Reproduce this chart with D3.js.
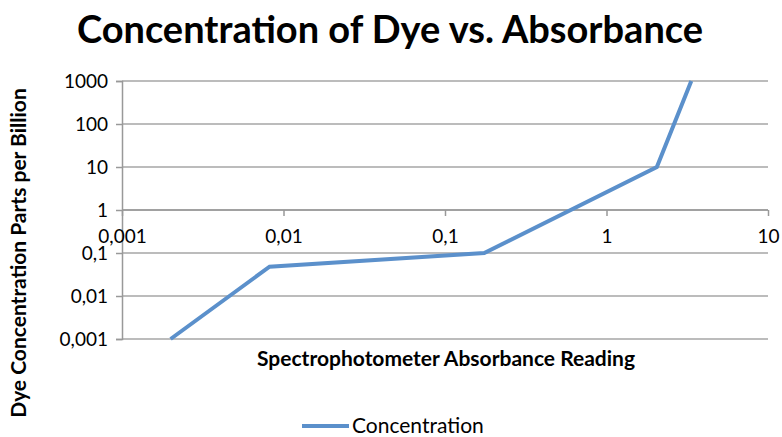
<!DOCTYPE html>
<html>
<head>
<meta charset="utf-8">
<script src="https://cdn.jsdelivr.net/npm/d3@7"></script>
<style>
  body { margin: 0; background: #fff; }
  text { font-family: Lato, "Open Sans", sans-serif; fill: #000; }
</style>
</head>
<body>
<div id="chart"></div>
<script>
// data
var absorbance = [0.002, 0.0082, 0.175, 2.05, 3.35];
var concentration = [0.001, 0.048, 0.1, 10, 1000];
var xTicks = [0.001, 0.01, 0.1, 1, 10];
var yTicks = [0.001, 0.01, 0.1, 1, 10, 100, 1000];
var seriesName = 'Concentration';

var width = 782, height = 437;
var plotLeft = 122, plotRight = 768, plotTop = 81, plotBottom = 339;

var x = d3.scaleLog().domain([0.001, 10]).range([plotLeft, plotRight]);
var y = d3.scaleLog().domain([0.001, 1000]).range([plotBottom, plotTop]);

function fmt(v) { return String(v).replace('.', ','); }

var svg = d3.select('#chart').append('svg')
    .attr('width', width)
    .attr('height', height);

// title
svg.append('text')
    .attr('x', 390).attr('y', 43)
    .attr('text-anchor', 'middle')
    .style('font-size', '38px').style('font-weight', 'bold')
    .text('Concentration of Dye vs. Absorbance');

// horizontal gridlines
svg.append('g').selectAll('line')
    .data(yTicks)
    .enter().append('line')
    .attr('x1', plotLeft).attr('x2', plotRight)
    .attr('y1', function(d) { return y(d); })
    .attr('y2', function(d) { return y(d); })
    .attr('stroke', '#a6a6a6').attr('stroke-width', 1.5);

// y axis
var yAxis = svg.append('g')
    .attr('transform', 'translate(' + plotLeft + ',0)')
    .call(d3.axisLeft(y).tickValues(yTicks).tickFormat(fmt).tickSize(6).tickPadding(8));
yAxis.selectAll('path, line').attr('stroke', '#999').attr('stroke-width', 1.5);
yAxis.selectAll('text').style('font-size', '19px').style('font-family', 'Lato, sans-serif');

// x axis crossing at y = 1
var xAxis = svg.append('g')
    .attr('transform', 'translate(0,' + y(1) + ')')
    .call(d3.axisBottom(x).tickValues(xTicks).tickFormat(fmt).tickSize(6).tickPadding(14));
xAxis.select('.domain').remove();
xAxis.append('line').attr('x1', plotLeft).attr('x2', plotRight).attr('y1', 0).attr('y2', 0);
xAxis.selectAll('line').attr('stroke', '#999').attr('stroke-width', 1.5);
xAxis.selectAll('text').style('font-size', '19px').style('font-family', 'Lato, sans-serif');

// series line
var data = absorbance.map(function(v, i) { return {x: v, y: concentration[i]}; });
svg.append('path')
    .datum(data)
    .attr('fill', 'none')
    .attr('stroke', '#5b90cb')
    .attr('stroke-width', 4)
    .attr('d', d3.line()
      .x(function(d) { return x(d.x); })
      .y(function(d) { return y(d.y); }));

// axis titles
svg.append('text')
    .attr('x', 446).attr('y', 366)
    .attr('text-anchor', 'middle')
    .style('font-size', '21px').style('font-weight', 'bold')
    .text('Spectrophotometer Absorbance Reading');

svg.append('text')
    .attr('transform', 'translate(26,253) rotate(-90)')
    .attr('text-anchor', 'middle')
    .style('font-size', '21px').style('font-weight', 'bold')
    .text('Dye Concentration Parts per Billion');

// legend
svg.append('line')
    .attr('x1', 302).attr('x2', 349).attr('y1', 426).attr('y2', 426)
    .attr('stroke', '#5b90cb').attr('stroke-width', 4);
svg.append('text')
    .attr('x', 352).attr('y', 433)
    .style('font-size', '21px')
    .text(seriesName);
</script>
</body>
</html>
